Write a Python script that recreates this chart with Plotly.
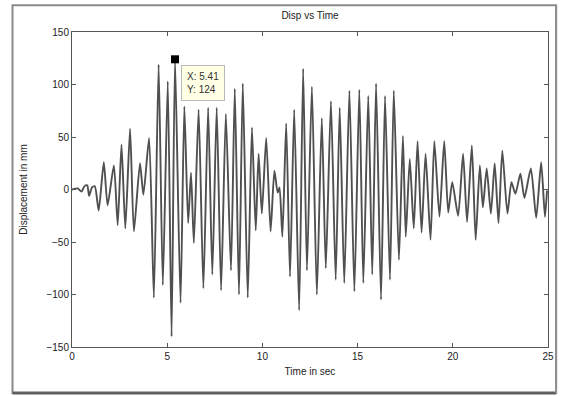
import plotly.graph_objects as go

# Extrema of the displacement record (time s, displacement mm)
time_s = [0.0, 0.3, 0.5, 0.65, 0.8, 0.9, 1.05, 1.2, 1.4, 1.67, 1.87, 2.2, 2.4, 2.6, 2.8,
          3.05, 3.25, 3.57, 3.75, 4.05, 4.3, 4.55, 4.77, 5.03, 5.23, 5.41, 5.7, 5.9, 6.1,
          6.25, 6.4, 6.65, 6.9, 7.15, 7.37, 7.6, 7.83, 8.08, 8.35, 8.55, 8.77, 8.97, 9.23,
          9.45, 9.65, 9.8, 9.97, 10.2, 10.43, 10.63, 10.8, 10.9, 11.05, 11.25, 11.45, 11.67,
          11.93, 12.14, 12.34, 12.6, 12.86, 13.12, 13.33, 13.6, 13.85, 14.06, 14.3, 14.57,
          14.83, 15.09, 15.3, 15.56, 15.77, 15.97, 16.23, 16.44, 16.7, 16.9, 17.17, 17.38,
          17.53, 17.74, 17.95, 18.15, 18.36, 18.57, 18.83, 19.03, 19.3, 19.55, 19.76, 19.97,
          20.28, 20.54, 20.75, 21.0, 21.2, 21.42, 21.58, 21.78, 22.0, 22.2, 22.4, 22.6,
          22.87, 23.08, 23.29, 23.55, 23.76, 24.1, 24.38, 24.64, 24.84, 24.95]
disp_mm = [0, 1, -2, 3, 4, -6, 2, 3, -20, 26, -15, 23, -34, 43, -37,
           58, -40, 25, -5, 49, -103, 119, -91, 103, -140, 124, -108, 79, -32,
           16, -51, 76, -94, 78, -81, 78, -96, 72, -77, 96, -100, 101, -103,
           59, -39, 34, -23, 49, -40, 18, -3, 2, -45, 63, -83, 76,
           -115, 115, -77, 98, -100, 68, -75, 84, -86, 78, -89, 94,
           -97, 95, -89, 89, -81, 101, -105, 89, -86, 94, -67, 51,
           -45, 29, -37, 46, -41, 34, -48, 46, -26, 46, -22, 7,
           -25, 34, -31, 42, -48, 23, -17, 20, -23, 25, -32, 37,
           -23, 7, -4, 15, -8, 20, -27, 26, -26, -1]

tip_t = [5.41]
tip_d = [124]

x_ticks = [0, 5, 10, 15, 20, 25]
y_ticks = [-150, -100, -50, 0, 50, 100, 150]

font = "Liberation Sans, Arial, sans-serif"

fig = go.Figure()
fig.add_trace(go.Scatter(x=time_s, y=disp_mm, mode="lines",
                         line=dict(color="#505050", width=1.9, shape="spline", smoothing=0.6),
                         hoverinfo="skip", showlegend=False))
fig.add_trace(go.Scatter(x=tip_t, y=tip_d, mode="markers",
                         marker=dict(symbol="square", size=8, color="black"),
                         showlegend=False, hoverinfo="skip"))

fig.add_annotation(x=tip_t[0], y=tip_d[0], xref="x", yref="y",
                   text=f"X: {tip_t[0]:.2f}<br>Y: {tip_d[0]}",
                   showarrow=False, xanchor="left", yanchor="top",
                   xshift=6, yshift=-6, align="left",
                   font=dict(family=font, size=10, color="#333"),
                   bgcolor="#ffffe6", bordercolor="#b8b8b8", borderwidth=1, borderpad=5)

axis_common = dict(showgrid=False, zeroline=False, showline=True, linecolor="#555",
                   linewidth=1, mirror="ticks", ticks="inside", ticklen=4,
                   tickcolor="#555", tickfont=dict(family=font, size=10, color="#222"))

fig.update_xaxes(range=[0, 25], tickvals=x_ticks,
                 title=dict(text="Time in sec", font=dict(family=font, size=10, color="#222"),
                            standoff=6), **axis_common)
fig.update_yaxes(range=[-150, 150], tickvals=y_ticks,
                 title=dict(text="Displacement in mm", font=dict(family=font, size=10, color="#222"),
                            standoff=16), **axis_common)

# outer figure frame
fig.add_shape(type="rect", xref="paper", yref="paper", x0=-0.125, x1=1.017, y0=-0.146, y1=1.085,
              line=dict(color="#8a8a8a", width=2), layer="below")
fig.add_shape(type="line", xref="paper", yref="paper", x0=-0.125, x1=1.017, y0=-0.146, y1=-0.146,
              line=dict(color="#606060", width=3))
fig.add_shape(type="line", xref="paper", yref="paper", x0=1.017, x1=1.017, y0=-0.146, y1=1.085,
              line=dict(color="#909090", width=2))

fig.update_layout(
    width=566, height=396,
    margin=dict(l=72, r=14, t=32, b=49),
    paper_bgcolor="white", plot_bgcolor="white",
    title=dict(text="Disp vs Time", x=0.5, xref="paper", xanchor="center",
               y=1 - 15 / 396, yanchor="middle",
               font=dict(family=font, size=10, color="#222")),
)

fig.write_html("out.html")
